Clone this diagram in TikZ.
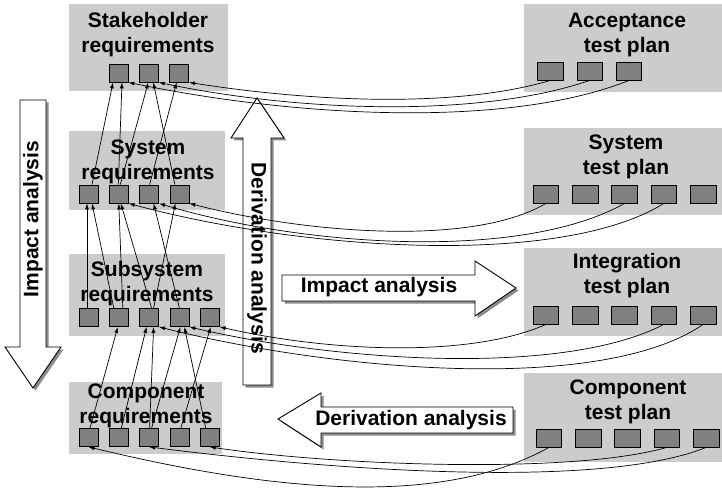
\documentclass[tikz,border=0pt]{standalone}
\usepackage{fontspec}
\setmainfont{Liberation Sans}
\usepackage{tikz}
\usetikzlibrary{positioning}
\usetikzlibrary{arrows.meta}

\begin{document}
\begin{tikzpicture}[x=1pt, y=-1pt,
        every node/.style = {font=\bfseries\fontsize{21}{25}\selectfont},
        panel/.style = {fill=black!20, inner sep=0pt},
        heading/.style = {align=center, inner sep=0pt},
        req/.style = {draw, fill=black!50, line width=0.8pt, minimum width=19pt, minimum height=18pt, inner sep=0pt},
        plan/.style = {req, minimum width=25.5pt},
        link/.style = {->, line width=0.7pt},
        bigarrow/.style = {draw, fill=white, line width=0.9pt,
          preaction={fill=black!45, transform canvas={xshift=2.5pt, yshift=-2.5pt}}},
        >={Latex[length=6pt, width=4pt]}
        ]
        \useasboundingbox (0,0) rectangle (722,489);
        % grey panels
        \node[panel, minimum width=159pt, minimum height=87pt] (stakeholder) at (148.5,47.5) {};
        \node[panel, minimum width=156pt, minimum height=79pt] (systemreq) at (147,170.5) {};
        \node[panel, minimum width=156pt, minimum height=82pt] (subsystem) at (147,295) {};
        \node[panel, minimum width=153pt, minimum height=72pt] (component) at (145.5,418) {};
        \node[panel, minimum width=198pt, minimum height=88pt] (acceptance) at (623,48) {};
        \node[panel, minimum width=198pt, minimum height=87pt] (systemtest) at (623,171.5) {};
        \node[panel, minimum width=198pt, minimum height=88pt] (integration) at (623,292) {};
        \node[panel, minimum width=198pt, minimum height=89pt] (componenttest) at (623,417.5) {};
        % headings
        \node[heading] (stakeholder-t) at (148,35) {Stakeholder\\requirements};
        \node[heading] (systemreq-t) at (148,162) {System\\requirements};
        \node[heading] (subsystem-t) at (147,284) {Subsystem\\requirements};
        \node[heading] (component-t) at (146,406) {Component\\requirements};
        \node[heading] (acceptance-t) at (627,35) {Acceptance\\test plan};
        \node[heading] (systemtest-t) at (626,157) {System\\test plan};
        \node[heading] (integration-t) at (627,276) {Integration\\test plan};
        \node[heading] (componenttest-t) at (628,402) {Component\\test plan};
        % requirement items
        \node[req] (s1) at (118.5,73) {};
        \node[req, right=10.5pt of s1] (s2) {};
        \node[req, right=10.5pt of s2] (s3) {};
        \node[req] (y1) at (88.5,194) {};
        \node[req, right=10.5pt of y1] (y2) {};
        \node[req, right=10.5pt of y2] (y3) {};
        \node[req, right=10.5pt of y3] (y4) {};
        \node[req] (b1) at (88.5,317.5) {};
        \node[req, right=10.5pt of b1] (b2) {};
        \node[req, right=10.5pt of b2] (b3) {};
        \node[req, right=10.5pt of b3] (b4) {};
        \node[req, right=10.5pt of b4] (b5) {};
        \node[req] (c1) at (88.5,437.5) {};
        \node[req, right=10.5pt of c1] (c2) {};
        \node[req, right=10.5pt of c2] (c3) {};
        \node[req, right=10.5pt of c3] (c4) {};
        \node[req, right=10.5pt of c4] (c5) {};
        % test items
        \node[plan] (a1) at (550.5,71) {};
        \node[plan, right=13pt of a1] (a2) {};
        \node[plan, right=13pt of a2] (a3) {};
        \node[plan] (t1) at (546,194) {};
        \node[plan, right=13pt of t1] (t2) {};
        \node[plan, right=13pt of t2] (t3) {};
        \node[plan, right=13pt of t3] (t4) {};
        \node[plan, right=13pt of t4] (t5) {};
        \node[plan] (i1) at (546,315) {};
        \node[plan, right=13pt of i1] (i2) {};
        \node[plan, right=13pt of i2] (i3) {};
        \node[plan, right=13pt of i3] (i4) {};
        \node[plan, right=13pt of i4] (i5) {};
        \node[plan] (p1) at (549,438) {};
        \node[plan, right=13pt of p1] (p2) {};
        \node[plan, right=13pt of p2] (p3) {};
        \node[plan, right=13pt of p3] (p4) {};
        \node[plan, right=13pt of p4] (p5) {};
        % block arrows
        \draw[bigarrow] (20,100) -- (46,100) -- (46,347) -- (61,347) -- (33,388) -- (5,347) -- (20,347) -- cycle;
        \node[rotate=90] (impactdown) at (33,219) {Impact analysis};
        \draw[bigarrow] (243,385) -- (243,138) -- (231,138) -- (257,98) -- (284,138) -- (271,138) -- (271,385) -- cycle;
        \node[rotate=-90] (derivationup) at (257,258) {Derivation analysis};
        \draw[bigarrow] (282,275) -- (475,275) -- (475,261) -- (516,288) -- (475,316) -- (475,301) -- (282,301) -- cycle;
        \node (impactright) at (379,287) {Impact analysis};
        \draw[bigarrow] (513,407) -- (321,407) -- (321,393) -- (278,419) -- (321,447) -- (321,433) -- (513,433) -- cycle;
        \node (derivationleft) at (411,420) {Derivation analysis};
        % traceability between levels
        \draw[link] ([xshift=3.5pt]y1.north) -- ([xshift=-5.5pt]s1.south);
        \draw[link] ([xshift=-0.5pt]y2.north) -- ([xshift=3.5pt]s1.south);
        \draw[link] ([xshift=1.5pt]y2.north) -- ([xshift=-0.5pt]s2.south);
        \draw[link] ([xshift=0.5pt]y3.north) -- ([xshift=-2.5pt]s3.south);
        \draw[link] ([xshift=-4.5pt]y4.north) -- ([xshift=4.5pt]s2.south);
        \draw[link] ([xshift=-1.5pt]b1.north) -- ([xshift=-1.5pt]y1.south);
        \draw[link] ([xshift=-5pt]b2.north) -- ([xshift=3.5pt]y1.south);
        \draw[link] ([xshift=4pt]b2.north) -- (y2.south);
        \draw[link] ([xshift=2.5pt]b3.north) -- ([xshift=2pt]y2.south);
        \draw[link] ([xshift=4.5pt]b3.north) -- ([xshift=-4pt]y4.south);
        \draw[link] (b4.north) -- ([xshift=4.5pt]y3.south);
        \draw[link] ([xshift=1.5pt]c1.north) -- ([xshift=-1pt]b2.south);
        \draw[link] ([xshift=2.5pt]c2.north) -- ([xshift=-2.5pt]b3.south);
        \draw[link] ([xshift=0.5pt]c3.north) -- ([xshift=4.5pt]b3.south);
        \draw[link] ([xshift=2.5pt]c3.north) -- ([xshift=1pt]b4.south);
        \draw[link] ([xshift=1.5pt]c4.north) -- ([xshift=1pt]b5.south);
        \draw[link] ([xshift=-4pt]c5.north) -- ([xshift=5pt]b4.south);
        % test plans back to requirements
        \draw[link] (a1.south) .. controls (450,110) and (300,100) .. (s3.south east);
        \draw[link] (a2.south) .. controls (480,118) and (300,112) .. (s2.south east);
        \draw[link] (a3.south) .. controls (510,128) and (300,118) .. (s1.south east);
        \draw[link] (t1.south) .. controls (470,248) and (300,232) .. (y4.south east);
        \draw[link] (t3.south) .. controls (520,262) and (300,246) .. (y3.south east);
        \draw[link] (t4.south) .. controls (560,268) and (300,250) .. (y2.south east);
        \draw[link] (i1.south) .. controls (470,358) and (330,352) .. (b5.south east);
        \draw[link] (i4.south) .. controls (560,378) and (330,360) .. (b4.south east);
        \draw[link] (i5.south) .. controls (600,395) and (330,370) .. (b3.south east);
        \draw[link] (p1.south) .. controls (450,502) and (300,498) .. (c1.south);
        \draw[link] (p4.south) .. controls (570,475) and (330,465) .. (c5.south);
        \draw[link] (p5.south) .. controls (600,490) and (330,470) .. (c3.south);
\end{tikzpicture}
\end{document}
